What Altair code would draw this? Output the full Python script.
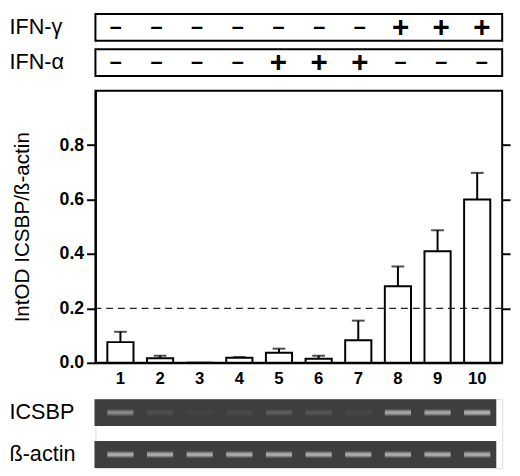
import altair as alt
import pandas as pd

# ---------------- data ----------------
lanes = ["1", "2", "3", "4", "5", "6", "7", "8", "9", "10"]
ifn_gamma = ["–", "–", "–", "–", "–", "–", "–", "+", "+", "+"]
ifn_alpha = ["–", "–", "–", "–", "+", "+", "+", "–", "–", "–"]
ratio = [0.076, 0.017, 0.0, 0.019, 0.037, 0.015, 0.083, 0.281, 0.410, 0.600]
sem = [0.038, 0.009, 0.0, 0.002, 0.015, 0.011, 0.072, 0.073, 0.077, 0.098]
threshold = [0.2]
y_ticks = [0.0, 0.2, 0.4, 0.6, 0.8]
right_ticks = [0.2, 0.4, 0.6, 0.8]
treat_rows = ["IFN-γ", "IFN-α"]
gel_rows = ["ICSBP", "ß-actin"]
icsbp_band = [0.60, 0.12, 0.05, 0.10, 0.22, 0.18, 0.07, 0.88, 0.88, 0.95]
actin_band = [0.92, 0.92, 0.92, 0.92, 0.92, 0.92, 0.92, 0.92, 0.92, 0.92]

FONT = "Liberation Sans"
W = 414

x_scale = alt.Scale(domain=lanes, paddingInner=0.34, paddingOuter=0.3)
y_scale = alt.Scale(domain=[0, 1], nice=False)

# ---------------- top treatment boxes ----------------
signs = pd.DataFrame(
    {"lane": lanes * 2,
     "row": [treat_rows[0]] * len(lanes) + [treat_rows[1]] * len(lanes),
     "sign": ifn_gamma + ifn_alpha}
)
rows_df = pd.DataFrame({"row": treat_rows})
ty_scale = alt.Scale(domain=treat_rows, paddingInner=0.24, paddingOuter=0)
row_axis = alt.Axis(title=None, ticks=False, domain=False, labelAlign="left",
                    labelPadding=88, labelFont=FONT, labelFontSize=22,
                    labelColor="black", labelBound=False, labelOverlap=False)

boxes = alt.Chart(rows_df).mark_rect(fill="white", stroke="black", strokeWidth=2).encode(
    y=alt.Y("row:N", scale=ty_scale, sort=treat_rows, axis=row_axis),
    x=alt.value(0), x2=alt.value(W),
)
ty = alt.Y("row:N", scale=ty_scale, sort=treat_rows, axis=row_axis)
tx = alt.X("lane:N", scale=x_scale, sort=lanes, axis=None)
plus_text = alt.Chart(signs).transform_filter("datum.sign == '+'").mark_text(
    font=FONT, fontSize=30, fontWeight="bold", color="black", baseline="middle", dy=1).encode(
    x=tx, y=ty, text="sign:N")
minus_text = alt.Chart(signs).transform_filter("datum.sign != '+'").mark_text(
    font=FONT, fontSize=22, fontWeight="bold", color="black", baseline="middle").encode(
    x=tx, y=ty, text="sign:N")
top = alt.layer(boxes, plus_text, minus_text).properties(width=W, height=63)

# ---------------- main bar chart ----------------
df = pd.DataFrame({"lane": lanes, "ratio": ratio, "sem": sem,
                   "upper": [r + s for r, s in zip(ratio, sem)]})

x_axis = alt.Axis(title=None, labelAngle=0, labelFont=FONT, labelFontSize=17,
                  labelFontWeight="bold", labelColor="black", ticks=False,
                  domainColor="black", domainWidth=2, labelPadding=8)
left_axis = alt.Axis(title="IntOD ICSBP/ß-actin", values=y_ticks, format=".1f",
                     labelFont=FONT, labelFontSize=18, labelFontWeight="bold",
                     labelColor="black", tickColor="black", tickWidth=2, tickSize=9,
                     domainColor="black", domainWidth=2, grid=False, labelPadding=3,
                     titleFont=FONT, titleFontSize=21, titleFontWeight="normal",
                     titleColor="black", titlePadding=27)
right_axis = alt.Axis(orient="right", title=None, labels=False, domain=False,
                      values=right_ticks, tickColor="black", tickWidth=2,
                      tickSize=8, grid=False)

base = alt.Chart(df).encode(x=alt.X("lane:N", scale=x_scale, sort=lanes, axis=x_axis))
bars = base.mark_bar(fill="white", stroke="black", strokeWidth=2).encode(
    y=alt.Y("ratio:Q", scale=y_scale, axis=left_axis)
)
err = base.transform_filter("datum.sem > 0").mark_rule(color="black", strokeWidth=2).encode(
    y=alt.Y("ratio:Q", scale=y_scale, axis=None), y2="upper:Q"
)
caps = base.transform_filter("datum.sem > 0").mark_tick(color="black", thickness=2, size=13).encode(
    y=alt.Y("upper:Q", scale=y_scale, axis=None)
)
dash = alt.Chart(pd.DataFrame({"t": threshold})).mark_rule(
    color="#222", strokeWidth=1.2, strokeDash=[7, 5]).encode(
    y=alt.Y("t:Q", scale=y_scale, axis=None)
)
right = alt.Chart(pd.DataFrame({"t": right_ticks})).mark_rule(opacity=0).encode(
    y=alt.Y("t:Q", scale=y_scale, axis=right_axis)
)
main = alt.layer(bars, err, caps, dash, right).resolve_axis(y="independent").properties(
    width=W, height=277,
    view=alt.ViewBackground(stroke="black", strokeWidth=2),
)

# ---------------- gel strips ----------------
gel = pd.DataFrame(
    {"lane": lanes * 2,
     "row": [gel_rows[0]] * len(lanes) + [gel_rows[1]] * len(lanes),
     "intensity": icsbp_band + actin_band}
)
gy_scale = alt.Scale(domain=gel_rows, paddingInner=0.36, paddingOuter=0)
gel_axis = alt.Axis(title=None, ticks=False, domain=False, labelAlign="left",
                    labelPadding=88, labelFont=FONT, labelFontSize=22,
                    labelColor="black", labelBound=False, labelOverlap=False)
gy = alt.Y("row:N", scale=gy_scale, sort=gel_rows, axis=gel_axis)
gx = alt.X("lane:N", scale=x_scale, sort=lanes, axis=None)
strips = alt.Chart(pd.DataFrame({"row": gel_rows})).mark_rect(fill="#3e3e3e").encode(
    y=gy, x=alt.value(-1), x2=alt.value(W - 6),
)
glow = alt.Chart(gel).mark_rect(height=6, fill="white").encode(
    x=gx, y=gy,
    opacity=alt.Opacity("intensity:Q", scale=alt.Scale(domain=[0, 1], range=[0, 0.35]), legend=None),
)
bands = alt.Chart(gel).mark_rect(height=3, fill="white").encode(
    x=gx, y=gy,
    opacity=alt.Opacity("intensity:Q", scale=alt.Scale(domain=[0, 1], range=[0, 1]), legend=None),
)
gel_chart = alt.layer(strips, glow, bands).properties(width=W, height=70)

chart = alt.vconcat(top, main, gel_chart, spacing=11).properties(padding=0).configure_view(
    stroke=None
).configure(font=FONT)

chart.save("out.html", embed_options={"renderer": "svg", "actions": False})
